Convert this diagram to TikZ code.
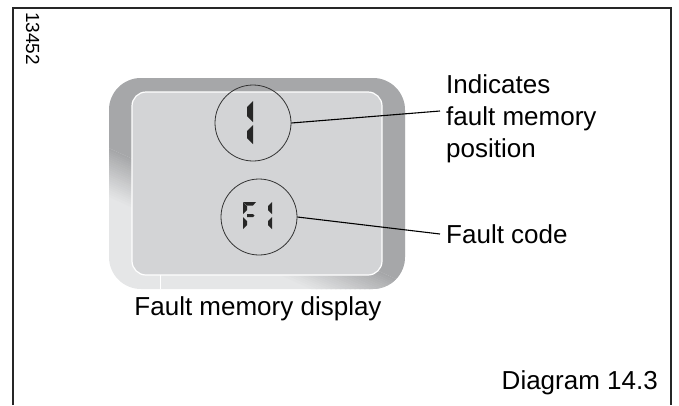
\documentclass[tikz,border=0pt]{standalone}
\usepackage{fontspec}
\setmainfont{Liberation Sans}
\definecolor{ringdark}{HTML}{A6A7A9}
\definecolor{ringlight}{HTML}{E5E6E7}
\definecolor{lcdgray}{HTML}{D3D4D6}
\definecolor{segblack}{HTML}{262626}
\tikzset{
  seg/.style={fill=segblack},
  ring/.style={draw=black!80, line width=0.8pt, circle, minimum size=76pt, inner sep=0pt},
  leader/.style={line width=1.1pt},
  label/.style={font=\fontsize{26}{32}\selectfont, inner sep=0pt, align=left}
}
\begin{document}
\begin{tikzpicture}[x=1pt,y=-1pt]
  \useasboundingbox (0,0) rectangle (679,405);
  % 枠と図番号
  \draw[line width=1.2pt, black!85] (13,405) -- (13,8) -- (671,8) -- (671,405);
  \node[font=\fontsize{19}{19}\selectfont, inner sep=0pt, rotate=-90, anchor=base west] (fignum) at (26,12) {13452};

  % 表示部の外枠 (左下が明るい)
  \fill[ringlight, rounded corners=32] (109,78) rectangle (405,289);
  \begin{scope}
    \clip[rounded corners=32] (109,78) rectangle (405,289);
    \begin{scope}[shift={(240,232)}, rotate=-24.5]
      \fill[ringdark] (-400,-22) rectangle (400,-400);
      \foreach \i in {0,...,21}{
        \pgfmathtruncatemacro\pct{100-100*\i/22}
        \fill[ringdark!\pct!ringlight] (-400,{-22+2*\i}) rectangle (400,{-22+2*\i+2.4});
      }
    \end{scope}
  \end{scope}
  \filldraw[fill=lcdgray, draw=white, line width=1.2pt, rounded corners=14] (132,92) rectangle (382,275);
  \draw[white, line width=1pt] (160,275) -- (160,289);

  % 表示の丸と数字
  \node[ring] (posring) at (253,123) {};
  \node[ring] (codering) at (259,217) {};
  \foreach \x/\ya/\yb/\w/\b in {253/101/122/6/6, 253/125/144/6/6, 272/202/214/4/4, 272/217/229/4/4, 243/202/214/-4/4, 243/217/229/-4/4}{
    \fill[seg] (\x,\ya) -- (\x,\yb) -- ({\x-\w},{\yb-\b}) -- ({\x-\w},{\ya+\b}) -- cycle;
  }
  \fill[seg] (243,202) -- (256,202) -- (253,205.5) -- (247,205.5) -- cycle;
  \fill[seg] (247,214) -- (253,214) -- (254.5,215.5) -- (253,217) -- (247,217) -- cycle;

  % 引出線とラベル
  \node[label, anchor=north west] (postext) at (446,74) {Indicates\\fault memory\\position};
  \node[label, anchor=base west] (codetext) at (446,243) {Fault code};
  \coordinate (posend) at (440,111);
  \coordinate (codeend) at (440,234);
  \draw[leader] (posring.east) -- (posend);
  \draw[leader] (codering.east) -- (codeend);
  \node[label, anchor=base] (caption) at (258,315) {Fault memory display};
  \node[label, anchor=base east] (diagnum) at (658,389) {Diagram 14.3};
\end{tikzpicture}
\end{document}
